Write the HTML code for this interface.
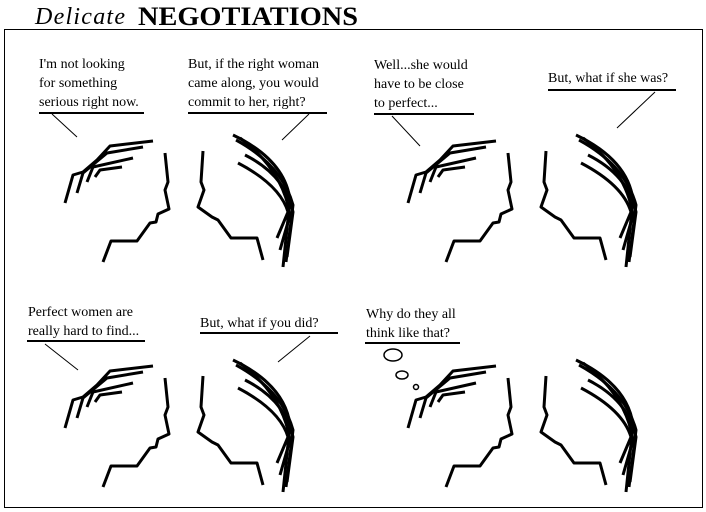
<!DOCTYPE html>
<html><head><style>body{margin:0;background:#fff}svg{display:block}</style></head><body>
<svg width="706" height="512" xmlns="http://www.w3.org/2000/svg" font-family="Liberation Serif, serif">
<defs>
<g id="pair" fill="none" stroke="#000" stroke-width="3" stroke-linejoin="round" stroke-linecap="butt">
<polyline points="165,153 168,182 165,190 169,209 158,214 156,222 150,223 137,241 111,241 103,262"/>
<polyline points="65,203 73,175 83,172 97,160 110,146 153,141"/>
<polyline points="77,193 83,173 107,153 143,147"/>
<polyline points="87,182 93,167 133,158"/>
<polyline points="95,177 100,170 122,167"/>
<polyline points="203,151 201,182 204,190 198,207 212,217 218,220 231,238 257,238 263,260"/>
<path d="M233,135 Q285,160 290,200 L283,267"/>
<path d="M236,140 Q282,165 293,205 L286,262"/>
<path d="M245,155 Q285,175 293,212 L287,257"/>
<path d="M238,163 Q280,185 288,212 L277,238"/>
<path d="M240,138 Q283,170 290,215 L280,250"/>
</g>
</defs>
<text x="35" y="24" font-size="24" font-style="italic" textLength="90">Delicate</text>
<text x="138" y="25" font-size="26" font-weight="bold" textLength="220" lengthAdjust="spacingAndGlyphs">NEGOTIATIONS</text>
<rect x="4.5" y="29.5" width="698" height="478" fill="none" stroke="#000"/>
<use href="#pair"/>
<use href="#pair" x="343"/>
<use href="#pair" y="225"/>
<use href="#pair" x="343" y="225"/>
<g font-size="14" fill="#000">
<text x="39" y="68">I'm not looking</text><text x="39" y="87">for something</text><text x="39" y="106">serious right now.</text>
<text x="188" y="68">But, if the right woman</text><text x="188" y="87">came along, you would</text><text x="188" y="106">commit to her, right?</text>
<text x="374" y="69">Well...she would</text><text x="374" y="88">have to be close</text><text x="374" y="107">to perfect...</text>
<text x="548" y="82">But, what if she was?</text>
<text x="28" y="316">Perfect women are</text><text x="28" y="335">really hard to find...</text>
<text x="200" y="327">But, what if you did?</text>
<text x="366" y="318">Why do they all</text><text x="366" y="337">think like that?</text>
</g>
<g stroke="#000" fill="none">
<line x1="39" y1="113" x2="144" y2="113" stroke-width="2"/><line x1="52" y1="114" x2="77" y2="137"/>
<line x1="188" y1="113" x2="327" y2="113" stroke-width="2"/><line x1="309" y1="114" x2="282" y2="140"/>
<line x1="374" y1="114" x2="474" y2="114" stroke-width="2"/><line x1="392" y1="116" x2="420" y2="146"/>
<line x1="548" y1="90" x2="676" y2="90" stroke-width="2"/><line x1="655" y1="92" x2="617" y2="128"/>
<line x1="27" y1="341" x2="145" y2="341" stroke-width="2"/><line x1="45" y1="344" x2="78" y2="370"/>
<line x1="200" y1="333" x2="338" y2="333" stroke-width="2"/><line x1="310" y1="336" x2="278" y2="362"/>
<line x1="365" y1="343" x2="460" y2="343" stroke-width="2"/>
<ellipse cx="393" cy="355" rx="9" ry="6" stroke-width="1.5"/>
<ellipse cx="402" cy="375" rx="6" ry="4" stroke-width="1.5"/>
<circle cx="416" cy="387" r="2.5" stroke-width="1.5"/>
</g>
</svg>
</body></html>
